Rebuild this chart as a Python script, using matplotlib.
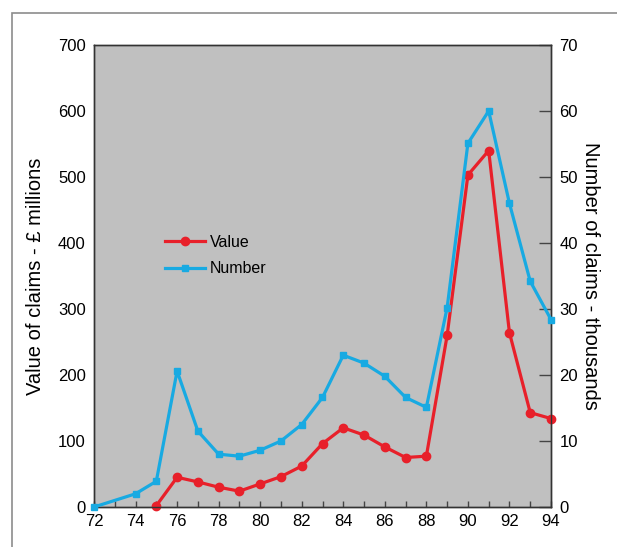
import matplotlib.pyplot as plt
from matplotlib.patches import Rectangle

plt.rcParams['font.family'] = ['Liberation Sans', 'DejaVu Sans']

# claims data, years 19xx
years_value = [75, 76, 77, 78, 79, 80, 81, 82, 83, 84, 85, 86, 87, 88, 89, 90, 91, 92, 93, 94]
value = [2, 45, 38, 30, 24, 35, 46, 62, 96, 120, 109, 91, 75, 77, 260, 503, 540, 264, 143, 134]

years_number = [72, 74, 75, 76, 77, 78, 79, 80, 81, 82, 83, 84, 85, 86, 87, 88, 89, 90, 91, 92, 93, 94]
number = [0, 2.0, 3.9, 20.6, 11.5, 8.0, 7.7, 8.6, 10.0, 12.5, 16.6, 23.0, 21.8, 19.8, 16.6, 15.1,
          30.2, 55.1, 60.0, 46.0, 34.2, 28.4]

red = '#e8202a'
blue = '#18aae2'

fig = plt.figure(figsize=(6.17, 5.47), dpi=100)
fig.patches.append(Rectangle((12/617, -0.05), 1.0, 1 - 13/547 + 0.05, transform=fig.transFigure,
                             fill=False, edgecolor='#8c8c8c', linewidth=1.2))

ax = fig.add_axes([94/617, 1 - 507/547, 457/617, 462/547])
ax.set_facecolor('#c0c0c0')
ax2 = ax.twinx()

lv, = ax.plot(years_value, value, '-o', color=red, lw=2.3, ms=6, clip_on=False, label='Value', zorder=3)
ln, = ax2.plot(years_number, number, '-s', color=blue, lw=2.3, ms=4.5, clip_on=False, label='Number', zorder=3)

ax.set_xlim(72, 94)
ax.set_ylim(0, 700)
ax2.set_ylim(0, 70)
ax.set_xticks(range(72, 95, 2))
ax.set_xticks(range(72, 95, 1), minor=True)
ax.set_yticks(range(0, 701, 100))
ax2.set_yticks(range(0, 71, 10))

ax.tick_params(axis='x', which='both', direction='in', length=4, width=1, color='#444444', labelsize=12, pad=5)
ax.tick_params(axis='y', length=0, labelsize=12, pad=6)
ax2.tick_params(axis='y', direction='in', length=9, width=1, color='#444444', labelsize=12, pad=6)

for a in (ax, ax2):
    for s in a.spines.values():
        s.set_color('#333333')
        s.set_linewidth(1)

ax.set_ylabel('Value of claims - £ millions', fontsize=14.5, labelpad=9)
ax2.set_ylabel('Number of claims - thousands', fontsize=14.5, rotation=270, labelpad=16)

ax.legend(handles=[lv, ln], loc='upper left', bbox_to_anchor=(0.123, 0.62), frameon=False,
          fontsize=11.5, handlelength=2.55, handletextpad=0.3, labelspacing=0.7)

fig.savefig('out.png', dpi=100)
